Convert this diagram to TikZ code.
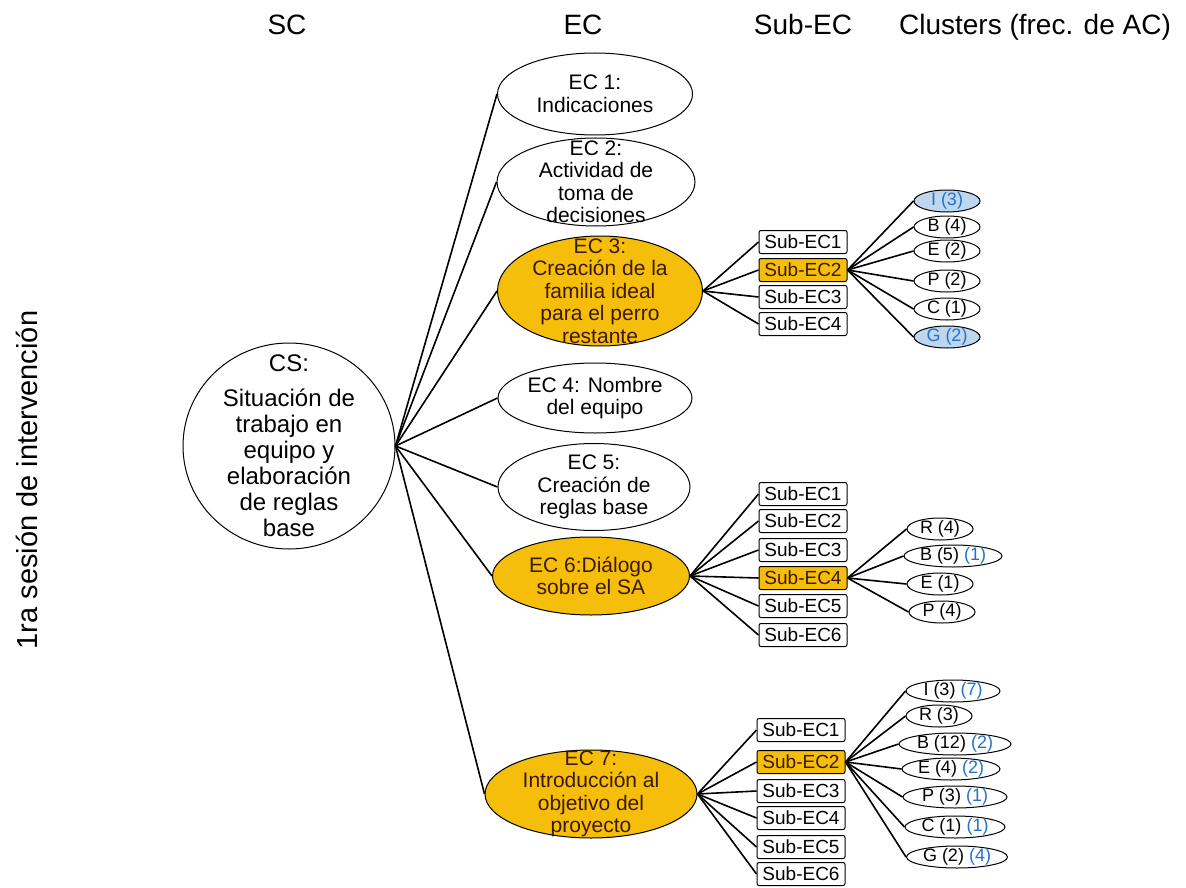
\documentclass[tikz,border=0pt]{standalone}
\usepackage{fontspec}
\setmainfont{Liberation Sans}
\usetikzlibrary{shapes.geometric}
\definecolor{ecorange}{RGB}{245,190,10}
\definecolor{clublue}{RGB}{190,214,238}
\definecolor{numblue}{RGB}{35,115,200}
\definecolor{ectxt}{RGB}{60,25,0}
\tikzset{
  ec/.style={ellipse, draw, line width=1pt, fill=white, inner sep=0pt},
  ecsel/.style={ec, fill=ecorange},
  ectext/.style={align=center, inner sep=0pt, font=\fontsize{21}{22.5}\selectfont},
  subec/.style={rectangle, draw, rounded corners=2pt, line width=1pt, fill=white,
    minimum width=88, minimum height=23, inner sep=0pt, font=\fontsize{19}{20}\selectfont},
  subsel/.style={subec, fill=ecorange, text=ectxt},
  clu/.style={ellipse, draw, line width=1pt, fill=white, inner xsep=-20pt, inner ysep=-6pt,
    minimum height=22, minimum width=66, font=\fontsize{18}{20}\selectfont},
  clusel/.style={clu, fill=clublue, text=numblue},
  link/.style={line width=1.6pt},
  head/.style={anchor=base, font=\fontsize{28}{30}\selectfont},
}
\newcommand{\nb}[1]{{\color{numblue}#1}}
\begin{document}
\begin{tikzpicture}[x=1pt,y=-1pt]
\useasboundingbox (0,0) rectangle (1186,888);

% column titles
\node[head] (hsc) at (287,35) {SC};
\node[head] (hec) at (583,35) {EC};
\node[head] (hsub) at (803,35) {Sub-EC};
\node[head] (hclu) at (1035,35) {Clusters (frec. de AC)};
\node[rotate=90, font=\fontsize{29}{30}\selectfont] (ses) at (27,480) {1ra sesión de intervención};

% situacion
\node[ellipse, draw, line width=1pt, fill=white, minimum width=212, minimum height=206, inner sep=0pt,
  label={[ectext, font=\fontsize{24}{26}\selectfont]center:{CS:\\[9pt]Situación de\\trabajo en\\equipo y\\elaboración\\de reglas\\base}}] (cs) at (289,446) {};

% episodios
\node[ec, minimum width=195, minimum height=82, label={[ectext]center:{EC 1:\\Indicaciones}}] (ec1) at (595,94) {};
\node[ec, minimum width=198, minimum height=88, label={[ectext]center:{EC 2:\\Actividad de\\toma de\\decisiones}}] (ec2) at (596,182) {};
\node[ecsel, minimum width=205, minimum height=110, label={[ectext, text=ectxt]center:{EC 3:\\Creación de la\\familia ideal\\para el perro\\restante}}] (ec3) at (600,291) {};
\node[ec, minimum width=194, minimum height=70, label={[ectext]center:{EC 4: Nombre\\del equipo}}] (ec4) at (595,398) {};
\node[ec, minimum width=192, minimum height=87, label={[ectext]center:{EC 5:\\Creación de\\reglas base}}] (ec5) at (594,487) {};
\node[ecsel, minimum width=197, minimum height=78, label={[ectext, text=ectxt]center:{EC 6:Diálogo\\sobre el SA}}] (ec6) at (591,576) {};
\node[ecsel, minimum width=212, minimum height=88, label={[ectext, text=ectxt]center:{EC 7:\\Introducción al\\objetivo del\\proyecto}}] (ec7) at (591,794) {};

\foreach \n in {ec1,ec2,ec3,ec4,ec5,ec6,ec7}
  \draw[link] (cs.east) -- (\n.west);

% sub-episodios EC 3
\node[subec] (s31) at (803,242) {Sub-EC1};
\node[subsel] (s32) at (803,270) {Sub-EC2};
\node[subec] (s33) at (803,297) {Sub-EC3};
\node[subec] (s34) at (803,324) {Sub-EC4};
\foreach \n in {s31,s32,s33,s34}
  \draw[link] (ec3.east) -- (\n.west);

\node[clusel] (c3i) at (947,201) {I (3)};
\node[clu] (c3b) at (947,227) {B (4)};
\node[clu] (c3e) at (947,251) {E (2)};
\node[clu] (c3p) at (947,281) {P (2)};
\node[clu] (c3c) at (947,309) {C (1)};
\node[clusel] (c3g) at (947,337) {G (2)};
\foreach \n in {c3i,c3b,c3e,c3p,c3c,c3g}
  \draw[link] (s32.east) -- (\n.west);

% sub-episodios EC 6
\node[subec] (s61) at (803,494) {Sub-EC1};
\node[subec] (s62) at (803,521) {Sub-EC2};
\node[subec] (s63) at (803,550) {Sub-EC3};
\node[subsel] (s64) at (803,578) {Sub-EC4};
\node[subec] (s65) at (803,606) {Sub-EC5};
\node[subec] (s66) at (803,635) {Sub-EC6};
\foreach \n in {s61,s62,s63,s64,s65,s66}
  \draw[link] (ec6.east) -- (\n.west);

\node[clu] (c6r) at (940,529) {R (4)};
\node[clu, minimum width=98] (c6b) at (953,556) {B (5) \nb{(1)}};
\node[clu] (c6e) at (940,584) {E (1)};
\node[clu] (c6p) at (942,612) {P (4)};
\foreach \n in {c6r,c6b,c6e,c6p}
  \draw[link] (s64.east) -- (\n.west);

% sub-episodios EC 7
\node[subec] (s71) at (801,730) {Sub-EC1};
\node[subsel] (s72) at (801,762) {Sub-EC2};
\node[subec] (s73) at (801,791) {Sub-EC3};
\node[subec] (s74) at (801,818) {Sub-EC4};
\node[subec] (s75) at (801,847) {Sub-EC5};
\node[subec] (s76) at (801,874) {Sub-EC6};
\foreach \n in {s71,s72,s73,s74,s75,s76}
  \draw[link] (ec7.east) -- (\n.west);

\node[clu, minimum width=94] (c7i) at (953,691) {I (3) \nb{(7)}};
\node[clu] (c7r) at (939,716) {R (3)};
\node[clu, minimum width=112] (c7b) at (955,744) {B (12) \nb{(2)}};
\node[clu, minimum width=98] (c7e) at (951,769) {E (4) \nb{(2)}};
\node[clu, minimum width=104] (c7p) at (955,797) {P (3) \nb{(1)}};
\node[clu, minimum width=100] (c7c) at (955,827) {C (1) \nb{(1)}};
\node[clu, minimum width=101] (c7g) at (957,857) {G (2) \nb{(4)}};
\foreach \n in {c7i,c7r,c7b,c7e,c7p,c7c,c7g}
  \draw[link] (s72.east) -- (\n.west);
\end{tikzpicture}
\end{document}
